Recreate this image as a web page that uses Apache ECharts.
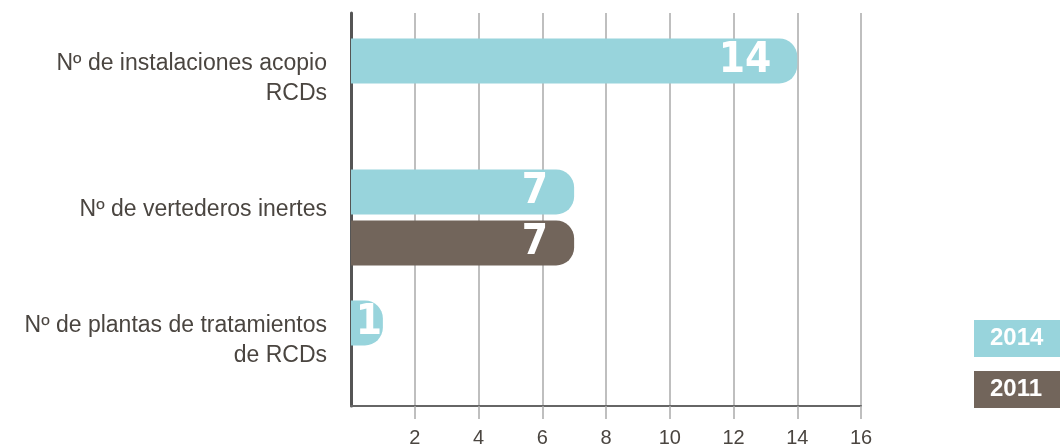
<!DOCTYPE html>
<html>
<head>
<meta charset="utf-8">
<script src="https://cdn.jsdelivr.net/npm/echarts@6/dist/echarts.min.js"></script>
<style>html,body{margin:0;padding:0;background:#fff;}#c{width:1060px;height:448px;}</style>
</head>
<body>
<div id="c"></div>
<script>
const categories = ['Nº de instalaciones acopio\nRCDs', 'Nº de vertederos inertes', 'Nº de plantas de tratamientos\nde RCDs'];
const seriesNames = ['2014', '2011'];
const values2014 = [14, 7, 1];
const values2011 = [null, 7, null];
const xTicks = [2, 4, 6, 8, 10, 12, 14, 16];
const colors = ['#98d4dc', '#72655b'];

const textColor = '#4a4540';
const font = "'Liberation Sans', Arial, sans-serif";
const numFont = "'Liberation Sans Narrow', 'DejaVu Sans Condensed', sans-serif";

function barData(vals) {
  return vals.map(v => v == null ? null : ({
    value: v,
    label: v < 3 ? { position: 'inside', offset: [2, 0] } : undefined
  }));
}

const barLabel = {
  show: true, position: 'insideRight', distance: 26,
  color: '#fff', fontFamily: numFont, fontSize: 42, fontWeight: 'bold'
};

const chart = echarts.init(document.getElementById('c'), null, { renderer: 'canvas' });
chart.setOption({
  animation: false,
  grid: { left: 351, right: 199, top: 13, bottom: 41, containLabel: false },
  xAxis: {
    type: 'value', min: 0, max: 16, interval: 2,
    axisLine: { show: true, onZero: false, lineStyle: { color: '#666', width: 2 } },
    axisTick: { show: true, length: 13, customValues: xTicks, lineStyle: { color: '#aaa', width: 1.5 } },
    splitLine: { show: true, lineStyle: { color: '#aaa', width: 1.5 } },
    axisLabel: { customValues: xTicks, fontSize: 20, color: textColor, fontFamily: font, margin: 22 }
  },
  yAxis: {
    type: 'category', inverse: true, data: categories,
    axisLine: { show: true, lineStyle: { color: '#555', width: 3 } },
    axisTick: { show: false },
    splitLine: { show: false },
    axisLabel: { fontSize: 23, color: textColor, fontFamily: font, lineHeight: 30, margin: 24, align: 'right' }
  },
  legend: {
    orient: 'vertical', left: 969, top: 320, padding: 0, itemGap: 14,
    icon: 'rect', itemWidth: 0, itemHeight: 0, selectedMode: false,
    data: seriesNames.map((n, i) => ({
      name: n,
      textStyle: {
        color: '#fff', fontWeight: 'bold', fontSize: 24, fontFamily: font,
        backgroundColor: colors[i], width: 70, height: 37, lineHeight: 37, padding: [0, 0, 0, 16]
      }
    }))
  },
  series: [
    { type: 'bar', name: '_pad', data: [null, null, null], barWidth: 14, barGap: '13.3%', silent: true, itemStyle: { color: 'transparent' } },
    { type: 'bar', name: seriesNames[0], data: barData(values2014), barWidth: 45, barGap: '13.3%',
      itemStyle: { color: colors[0], borderRadius: [0, 18, 18, 0] }, label: barLabel },
    { type: 'bar', name: seriesNames[1], data: barData(values2011), barWidth: 45, barGap: '13.3%',
      itemStyle: { color: colors[1], borderRadius: [0, 18, 18, 0] }, label: barLabel }
  ]
});
</script>
</body>
</html>
